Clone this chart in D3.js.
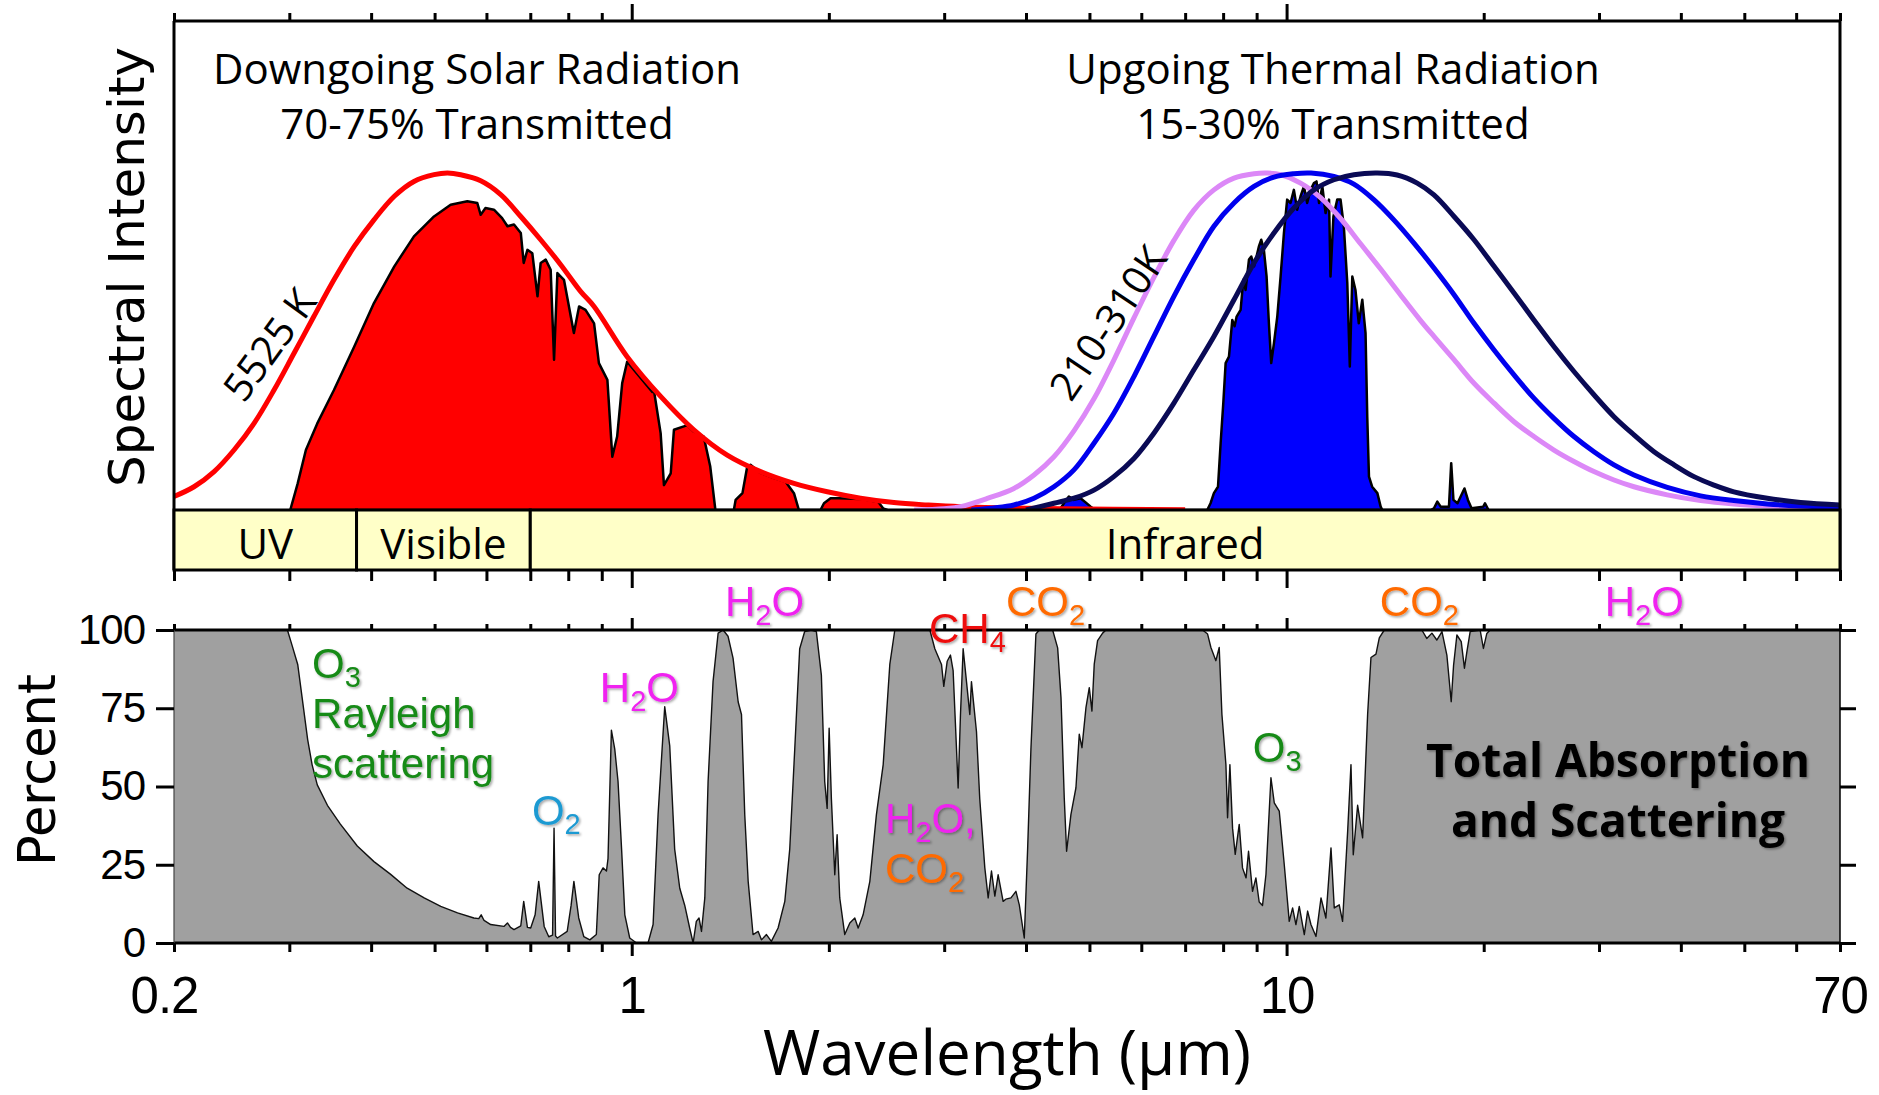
<!DOCTYPE html>
<html>
<head>
<meta charset="utf-8">
<script src="https://cdn.jsdelivr.net/npm/d3@7"></script>
<style>
  body { margin: 0; background: #fff; }
  svg { display: block; }
</style>
</head>
<body>
<script>
// ---- data (wavelength in µm) ----
var xDomain = [0.2, 70];
var xTickLabels = [0.2, 1, 10, 70];
var xMajorTicks = [1, 10];
var percentTicks = [0, 25, 50, 75, 100];

var bandNames = ["UV", "Visible", "Infrared"];
var bandEdges = [0.2, 0.38, 0.7, 70];

// blackbody curves, normalised spectral intensity
var sun5525 = [[0.2,0.04],[0.2146,0.069],[0.2303,0.114],[0.247,0.178],[0.265,0.257],[0.2843,0.356],[0.305,0.465],[0.327,0.574],[0.351,0.683],[0.377,0.782],[0.404,0.861],[0.434,0.931],[0.465,0.975],[0.499,0.995],[0.523,1.0],[0.548,0.995],[0.588,0.977],[0.631,0.936],[0.677,0.871],[0.726,0.802],[0.779,0.728],[0.836,0.648],[0.876,0.604],[0.984,0.455],[1.107,0.337],[1.244,0.238],[1.399,0.163],[1.573,0.114],[1.769,0.079],[1.989,0.054],[2.236,0.035],[2.514,0.022],[2.826,0.015],[3.178,0.01],[4.5,0.004],[7,0.001]];

var bb310 = [[2.7,0],[3.0,0.004],[3.178,0.01],[3.5,0.035],[3.834,0.064],[4.114,0.104],[4.413,0.158],[4.735,0.235],[5.08,0.33],[5.448,0.445],[5.847,0.57],[6.272,0.69],[6.729,0.80],[7.219,0.89],[7.745,0.95],[8.312,0.985],[8.918,0.998],[9.344,1.0],[9.792,0.995],[10.505,0.97],[11.27,0.927],[12.09,0.865],[12.97,0.79],[13.92,0.715],[14.93,0.638],[16.02,0.562],[16.79,0.515],[18.02,0.446],[19.33,0.376],[20.74,0.317],[22.25,0.262],[23.86,0.218],[25.6,0.178],[27.47,0.144],[29.47,0.114],[31.62,0.089],[33.92,0.069],[38.13,0.045],[42.88,0.028],[48.2,0.018],[54.2,0.012],[60.95,0.008],[70,0.005]];

var bb260 = [[3.3,0],[3.834,0.015],[4.114,0.035],[4.413,0.069],[4.735,0.119],[5.08,0.198],[5.448,0.287],[5.847,0.396],[6.272,0.515],[6.729,0.634],[7.219,0.743],[7.745,0.842],[8.312,0.911],[8.918,0.96],[9.566,0.988],[10.26,0.998],[10.9,1.0],[11.81,0.99],[12.67,0.967],[13.59,0.921],[14.58,0.861],[15.65,0.792],[16.79,0.718],[18.02,0.639],[19.33,0.554],[20.74,0.475],[22.25,0.401],[23.86,0.332],[25.6,0.272],[27.47,0.218],[29.47,0.173],[31.62,0.134],[33.92,0.104],[38.13,0.067],[42.88,0.042],[48.2,0.028],[54.2,0.018],[60.95,0.012],[70,0.008]];

var bb210 = [[4.0,0],[4.413,0.02],[4.735,0.035],[5.08,0.059],[5.448,0.099],[5.847,0.153],[6.272,0.228],[6.729,0.317],[7.219,0.416],[7.745,0.515],[8.312,0.624],[8.918,0.733],[9.566,0.822],[10.26,0.896],[11.01,0.95],[11.81,0.98],[12.67,0.995],[13.76,1.0],[14.75,0.994],[15.83,0.97],[16.79,0.935],[18.02,0.871],[19.33,0.802],[20.74,0.723],[22.25,0.644],[23.86,0.564],[25.6,0.485],[27.47,0.411],[29.47,0.342],[31.62,0.277],[33.92,0.223],[36.4,0.173],[39.05,0.134],[41.89,0.099],[44.93,0.074],[48.2,0.054],[54.2,0.035],[60.95,0.022],[70,0.015]];

// transmitted radiation
var solarTransmitted = [[0.301,0],[0.309,0.079],[0.318,0.178],[0.331,0.257],[0.351,0.356],[0.377,0.485],[0.404,0.614],[0.434,0.723],[0.465,0.812],[0.499,0.871],[0.529,0.906],[0.561,0.916],[0.581,0.911],[0.588,0.876],[0.598,0.896],[0.616,0.891],[0.634,0.866],[0.646,0.842],[0.661,0.847],[0.677,0.822],[0.684,0.733],[0.693,0.772],[0.705,0.762],[0.718,0.634],[0.726,0.733],[0.739,0.743],[0.752,0.713],[0.761,0.446],[0.770,0.703],[0.788,0.683],[0.816,0.525],[0.831,0.604],[0.850,0.594],[0.876,0.554],[0.891,0.436],[0.918,0.386],[0.934,0.158],[0.950,0.218],[0.967,0.376],[0.984,0.44],[1.075,0.35],[1.081,0.356],[1.107,0.228],[1.120,0.074],[1.147,0.109],[1.160,0.238],[1.201,0.248],[1.215,0.252],[1.244,0.233],[1.288,0.218],[1.318,0.129],[1.342,0],[1.432,0],[1.441,0.03],[1.476,0.05],[1.501,0.129],[1.518,0.134],[1.573,0.11],[1.65,0.095],[1.718,0.084],[1.769,0.05],[1.800,0],[1.942,0],[1.966,0.02],[2.012,0.035],[2.071,0.035],[2.236,0.033],[2.38,0.024],[2.42,0.005],[2.456,0]];

var thermalTransmitted = [[4.5,0],[4.571,0.02],[4.651,0.04],[4.735,0.03],[4.846,0.035],[5.022,0.01],[5.1,0],[7.565,0],[7.654,0.02],[7.745,0.05],[7.857,0.069],[7.93,0.198],[8.005,0.317],[8.071,0.436],[8.166,0.455],[8.262,0.564],[8.33,0.545],[8.389,0.574],[8.508,0.594],[8.588,0.683],[8.658,0.653],[8.761,0.743],[8.833,0.752],[8.918,0.723],[8.997,0.752],[9.072,0.782],[9.148,0.802],[9.233,0.772],[9.321,0.693],[9.397,0.554],[9.474,0.436],[9.566,0.495],[9.678,0.574],[9.792,0.693],[9.907,0.822],[10.02,0.921],[10.14,0.911],[10.26,0.95],[10.38,0.891],[10.505,0.931],[10.63,0.96],[10.75,0.911],[10.88,0.95],[11.01,0.97],[11.11,0.975],[11.21,0.911],[11.34,0.96],[11.47,0.881],[11.61,0.921],[11.67,0.693],[11.79,0.871],[11.95,0.921],[12.09,0.921],[12.23,0.842],[12.38,0.673],[12.49,0.426],[12.6,0.693],[12.74,0.653],[12.89,0.554],[13.05,0.624],[13.2,0.525],[13.28,0.277],[13.36,0.099],[13.51,0.069],[13.76,0.05],[13.92,0.01],[14.0,0],[16.6,0],[16.79,0.005],[16.99,0.025],[17.19,0.01],[17.7,0.01],[17.84,0.139],[17.98,0.03],[18.24,0.02],[18.69,0.064],[18.92,0.03],[19.16,0.005],[19.97,0.01],[20.09,0.02],[20.34,0]];

// total absorption and scattering, percent
var absorption = [[0.2,100],[0.298,100],[0.303,95],[0.309,89],[0.314,78],[0.32,65],[0.325,57],[0.331,50.5],[0.343,44],[0.359,38],[0.381,31],[0.404,26],[0.428,22],[0.454,17.5],[0.482,14.4],[0.511,11.7],[0.542,9.6],[0.574,8],[0.584,7.8],[0.589,9],[0.595,7.2],[0.609,5.9],[0.638,5.3],[0.646,6.4],[0.653,5],[0.661,4.3],[0.677,5.5],[0.684,13.3],[0.693,5],[0.701,4.8],[0.712,9],[0.721,19.7],[0.735,5.3],[0.747,2],[0.757,2.5],[0.761,36.7],[0.765,2.2],[0.77,1.6],[0.797,3.7],[0.808,12],[0.816,19.7],[0.83,8],[0.845,2],[0.863,1],
  [0.883,2.7],[0.892,21.8],[0.904,24],[0.915,23],[0.92,27],[0.931,68],[0.942,62],[0.953,51.6],[0.965,30],[0.976,9],[0.993,1.6],[1.017,0],[1.059,0],[1.078,5.9],[1.097,41],[1.123,75.5],[1.143,63],[1.163,30],[1.184,17.5],[1.205,12],[1.226,4.8],[1.241,0],[1.255,6.9],[1.267,8],[1.278,3.7],[1.293,14.4],[1.308,51.6],[1.331,83.5],[1.355,99],[1.379,100],[1.403,98],[1.428,91],[1.454,77],[1.471,73],[1.488,41],[1.506,19.7],[1.532,2.7],[1.56,3.7],[1.578,1],[1.606,2.7],[1.634,0.5],[1.673,4.8],[1.713,13.3],[1.743,30],[1.774,62],[1.805,94],[1.837,99.5],[1.881,100],[1.914,99.5],[1.948,85.6],[1.971,51.6],[1.988,43],[2.002,68.6],[2.018,46],[2.042,21.8],[2.059,34.6],[2.078,14.4],[2.115,2.7],[2.153,6.4],[2.191,8],[2.217,4.8],[2.256,9],[2.31,19.7],[2.364,41],[2.421,57],[2.478,89],[2.522,100],[2.853,100],[2.903,94],[2.972,89],[2.996,82],[3.032,90],[3.067,92],[3.096,87],[3.133,62],[3.151,49.5],[3.177,73],[3.207,94],[3.245,83.5],[3.283,73],[3.302,83.5],[3.361,67.5],[3.4,46],[3.461,24],[3.502,14.4],[3.543,23],[3.585,15],[3.627,21.8],[3.691,13.3],[3.726,14],
  [3.794,14.4],[3.861,16.5],[3.907,12.2],[3.976,1.6],[4.023,30],[4.07,62],[4.142,98.7],[4.191,100],[4.393,100],[4.471,94.3],[4.524,78.4],[4.576,46.4],[4.614,29.3],[4.685,41.1],[4.768,49.6],[4.824,66.7],[4.87,62.4],[4.939,75.2],[4.997,81.6],[5.044,74.1],[5.085,89.1],[5.145,96.6],[5.237,99],[5.298,100],[7.443,100],[7.575,98.7],[7.664,94.4],[7.799,90.2],[7.891,94.4],[7.966,73.1],[8.079,57],[8.126,40],[8.193,57],[8.27,36.7],[8.348,28.3],[8.466,37.9],[8.565,24],[8.672,20.8],[8.748,29.3],[8.872,16.5],[8.977,20.8],[9.082,13.1],[9.189,12],[9.3,21.9],[9.465,52.8],[9.576,44.8],[9.746,42.1],[9.919,25],[10.094,6.9],[10.214,11.2],[10.334,5.9],[10.456,11.7],[10.643,2.7],[10.768,10.2],[10.894,5.9],[11.09,2.1],[11.287,14.4],[11.482,8],[11.69,30.4],[11.825,11.2],[12.034,12.2],[12.176,6.9],[12.395,35.7],[12.541,57],[12.642,28.2],[12.838,44],[13.065,33.6],[13.297,73.1],[13.454,91.2],[13.693,92.3],[13.854,97.5],[14.1,100],
  [16.09,100],[16.37,97.3],[16.67,99],[16.96,96.8],[17.27,99.5],[17.57,92],[17.84,77.1],[17.99,88.8],[18.2,98.4],[18.48,96.3],[18.69,87.8],[18.85,93],[19.07,99.5],[19.75,100],[19.98,94.1],[20.22,98.9],[20.46,100],[70,100]];

// labels
var titleSolar = ["Downgoing Solar Radiation", "70-75% Transmitted"];
var titleThermal = ["Upgoing Thermal Radiation", "15-30% Transmitted"];
var gasTexts = ["O_3", "Rayleigh", "scattering", "O_2", "H_2O", "H_2O", "CH_4", "H_2O,", "CO_2", "CO_2", "CO_2", "H_2O", "O_3"];

// ---- layout ----
var W = 1879, H = 1095;
var svg = d3.select("body").append("svg")
    .attr("width", W)
    .attr("height", H);

var x = d3.scaleLog().domain(xDomain).range([174, 1840]);
var yTop = d3.scaleLinear().domain([0, 1]).range([510, 173]);
var yBot = d3.scaleLinear().domain([0, 100]).range([943, 630]);

var defs = svg.append("defs");
var shadow = defs.append("filter").attr("id", "shadow")
    .attr("x", "-10%").attr("y", "-10%").attr("width", "130%").attr("height", "130%");
shadow.append("feDropShadow")
    .attr("dx", 1.5).attr("dy", 1.5).attr("stdDeviation", 1.3)
    .attr("flood-color", "#000").attr("flood-opacity", 0.35);

// ---- top panel ----
var areaTop = d3.area()
    .x(function (d) { return x(d[0]); })
    .y0(yTop(0))
    .y1(function (d) { return yTop(d[1]); });

svg.append("path")
    .datum(solarTransmitted)
    .attr("d", areaTop)
    .attr("fill", "#ff0000")
    .attr("stroke", "#000")
    .attr("stroke-width", 2.5)
    .attr("stroke-linejoin", "round");

svg.append("path")
    .datum(thermalTransmitted)
    .attr("d", areaTop)
    .attr("fill", "#0000ff")
    .attr("stroke", "#000")
    .attr("stroke-width", 2.5)
    .attr("stroke-linejoin", "round");

var bbLine = d3.line()
    .x(function (d) { return x(d[0]); })
    .y(function (d) { return yTop(d[1]); })
    .curve(d3.curveCatmullRom.alpha(0.5));

var curves = [
    { data: sun5525, color: "#ff0000" },
    { data: bb310, color: "#dc88f7" },
    { data: bb260, color: "#0000ee" },
    { data: bb210, color: "#0a0a55" }
];
curves.forEach(function (c) {
    svg.append("path")
        .datum(c.data)
        .attr("d", bbLine)
        .attr("fill", "none")
        .attr("stroke", c.color)
        .attr("stroke-width", 5);
});

// frame of top panel
var frame = svg.append("g").attr("stroke", "#000").attr("stroke-width", 3).attr("fill", "none");
frame.append("line").attr("x1", x(0.2)).attr("x2", x(70)).attr("y1", 21).attr("y2", 21);
frame.append("line").attr("x1", x(0.2)).attr("x2", x(0.2)).attr("y1", 21).attr("y2", 570);
frame.append("line").attr("x1", x(70)).attr("x2", x(70)).attr("y1", 21).attr("y2", 570);

// spectral bands
var bands = svg.append("g");
bandNames.forEach(function (name, i) {
    var x0 = x(bandEdges[i]), x1 = x(bandEdges[i + 1]);
    bands.append("rect")
        .attr("x", x0).attr("y", 510)
        .attr("width", x1 - x0).attr("height", 60)
        .attr("fill", "#ffffc8")
        .attr("stroke", "#000")
        .attr("stroke-width", 3);
    bands.append("text")
        .attr("x", (x0 + x1) / 2).attr("y", 559)
        .attr("text-anchor", "middle")
        .attr("font-family", "Open Sans")
        .attr("font-size", 42)
        .text(name);
});

// log ticks on the top edge and below the bands
var minorTicks = x.ticks().filter(function (t) { return xMajorTicks.indexOf(t) < 0; });
function tickAxis(axisFn, values, size, y) {
    var g = svg.append("g")
        .attr("transform", "translate(0," + y + ")")
        .call(axisFn(x).tickValues(values).tickSize(size).tickSizeOuter(0).tickFormat(""));
    g.select(".domain").remove();
    g.selectAll("line").attr("stroke", "#000").attr("stroke-width", 3);
    return g;
}
tickAxis(d3.axisTop, minorTicks, 8, 21);
tickAxis(d3.axisTop, xMajorTicks, 17, 21);
tickAxis(d3.axisBottom, minorTicks, 11, 570);
tickAxis(d3.axisBottom, xMajorTicks, 18, 570);

// titles
function titleBlock(lines, cx) {
    lines.forEach(function (t, i) {
        svg.append("text")
            .attr("x", cx).attr("y", 84 + i * 55)
            .attr("text-anchor", "middle")
            .attr("font-family", "Open Sans")
            .attr("font-size", 42)
            .text(t);
    });
}
titleBlock(titleSolar, 477);
titleBlock(titleThermal, 1333);

svg.append("text")
    .attr("transform", "translate(" + x(0.28) + "," + yTop(0.49) + ") rotate(-54)")
    .attr("text-anchor", "middle")
    .attr("dy", "0.35em")
    .attr("font-family", "Open Sans")
    .attr("font-size", 40)
    .text("5525 K");

svg.append("text")
    .attr("transform", "translate(" + x(5.34) + "," + yTop(0.555) + ") rotate(-56)")
    .attr("text-anchor", "middle")
    .attr("dy", "0.35em")
    .attr("font-family", "Open Sans")
    .attr("font-size", 40)
    .text("210-310K");

svg.append("text")
    .attr("transform", "translate(144,267) rotate(-90)")
    .attr("text-anchor", "middle")
    .attr("font-family", "DejaVu Sans")
    .attr("font-size", 50)
    .text("Spectral Intensity");

// ---- bottom panel ----
var areaBot = d3.area()
    .x(function (d) { return x(d[0]); })
    .y0(yBot(0))
    .y1(function (d) { return yBot(d[1]); });
var lineBot = d3.line()
    .x(function (d) { return x(d[0]); })
    .y(function (d) { return yBot(d[1]); });

svg.append("path")
    .datum(absorption)
    .attr("d", areaBot)
    .attr("fill", "#a0a0a0");
svg.append("path")
    .datum(absorption)
    .attr("d", lineBot)
    .attr("fill", "none")
    .attr("stroke", "#111")
    .attr("stroke-width", 1.4)
    .attr("stroke-linejoin", "round");

var bframe = svg.append("g").attr("stroke", "#000").attr("fill", "none");
bframe.append("line").attr("x1", x(0.2)).attr("x2", x(70)).attr("y1", yBot(100)).attr("y2", yBot(100)).attr("stroke-width", 3);
bframe.append("line").attr("x1", x(0.2)).attr("x2", x(70)).attr("y1", yBot(0)).attr("y2", yBot(0)).attr("stroke-width", 3);
bframe.append("line").attr("x1", x(0.2)).attr("x2", x(0.2)).attr("y1", yBot(100)).attr("y2", yBot(0)).attr("stroke-width", 1.2).attr("stroke", "#444");
bframe.append("line").attr("x1", x(70)).attr("x2", x(70)).attr("y1", yBot(100)).attr("y2", yBot(0)).attr("stroke-width", 1.5);

tickAxis(d3.axisTop, minorTicks, 6, yBot(100));
tickAxis(d3.axisTop, xMajorTicks, 12, yBot(100));
tickAxis(d3.axisBottom, minorTicks, 9, yBot(0));
tickAxis(d3.axisBottom, xMajorTicks, 13, yBot(0));

var yLeft = svg.append("g")
    .attr("transform", "translate(" + x(0.2) + ",0)")
    .call(d3.axisLeft(yBot).tickValues(percentTicks).tickSize(18).tickPadding(11).tickSizeOuter(0));
yLeft.select(".domain").remove();
yLeft.selectAll("line").attr("stroke", "#000").attr("stroke-width", 3);
yLeft.selectAll("text")
    .attr("font-family", "Liberation Sans")
    .attr("font-size", 42)
    .attr("letter-spacing", -1)
    .attr("fill", "#000");

var yRight = svg.append("g")
    .attr("transform", "translate(" + x(70) + ",0)")
    .call(d3.axisRight(yBot).tickValues(percentTicks).tickSize(16).tickSizeOuter(0).tickFormat(""));
yRight.select(".domain").remove();
yRight.selectAll("line").attr("stroke", "#000").attr("stroke-width", 3);

var xLabels = svg.append("g")
    .attr("transform", "translate(0," + yBot(0) + ")")
    .call(d3.axisBottom(x).tickValues(xTickLabels).tickSize(0).tickPadding(34).tickFormat(d3.format("")));
xLabels.select(".domain").remove();
xLabels.selectAll("text")
    .attr("font-family", "Liberation Sans")
    .attr("font-size", 51)
    .attr("letter-spacing", -1)
    .attr("fill", "#000")
    .attr("dx", function (d) { return d === 0.2 ? -10 : 0; });

svg.append("text")
    .attr("x", 1007).attr("y", 1075)
    .attr("text-anchor", "middle")
    .attr("font-family", "Open Sans")
    .attr("font-size", 62)
    .text("Wavelength (\u00b5m)");

svg.append("text")
    .attr("transform", "translate(55,770) rotate(-90)")
    .attr("text-anchor", "middle")
    .attr("font-family", "DejaVu Sans")
    .attr("font-size", 51)
    .text("Percent");

// gas labels with subscripts
function chem(str, lam, pct, color) {
    var t = svg.append("text")
        .attr("x", x(lam)).attr("y", yBot(pct))
        .attr("font-family", "Liberation Sans")
        .attr("font-size", 42)
        .attr("fill", color)
        .attr("filter", "url(#shadow)");
    var parts = str.split("_");
    t.append("tspan").text(parts[0]);
    for (var i = 1; i < parts.length; i++) {
        t.append("tspan").attr("dy", 9).attr("font-size", 29).text(parts[i].charAt(0));
        if (parts[i].length > 1) t.append("tspan").attr("dy", -9).text(parts[i].slice(1));
    }
}
var green = "#158a18", magenta = "#f020f0", orange = "#ff6a00";
chem(gasTexts[0], 0.325, 84.7, green);
chem(gasTexts[1], 0.325, 68.7, green);
chem(gasTexts[2], 0.325, 52.7, green);
chem(gasTexts[3], 0.704, 37.7, "#1f9ad2");
chem(gasTexts[4], 0.894, 77, magenta);
chem(gasTexts[5], 1.388, 104.5, magenta);
chem(gasTexts[6], 2.844, 95.8, "#ee1010");
chem(gasTexts[7], 2.436, 35.1, magenta);
chem(gasTexts[8], 2.436, 19.2, orange);
chem(gasTexts[9], 3.728, 104.5, orange);
chem(gasTexts[10], 13.88, 104.5, orange);
chem(gasTexts[11], 30.6, 104.5, magenta);
chem(gasTexts[12], 8.88, 57.8, green);

["Total Absorption", "and Scattering"].forEach(function (t, i) {
    svg.append("text")
        .attr("x", 1618).attr("y", 777 + i * 60)
        .attr("text-anchor", "middle")
        .attr("font-family", "Open Sans")
        .attr("font-weight", "bold")
        .attr("font-size", 46)
        .attr("fill", "#000")
        .attr("filter", "url(#shadow)")
        .text(t);
});
</script>
</body>
</html>
